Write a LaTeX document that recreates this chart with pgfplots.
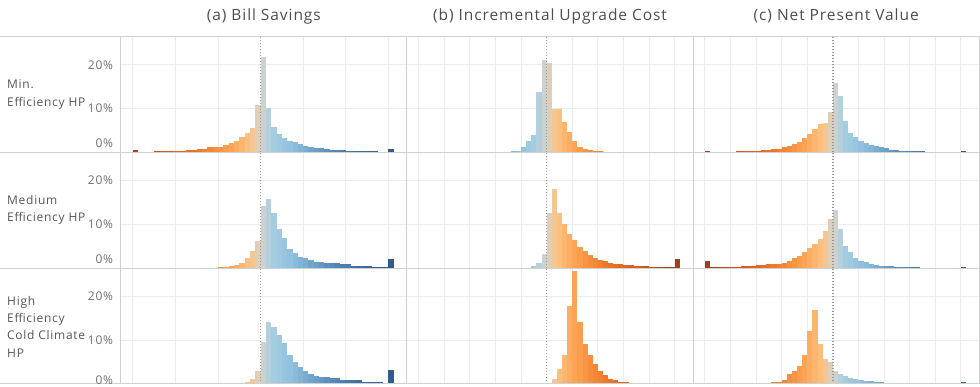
\documentclass[border=0pt]{standalone}
\usepackage{pgfplots}
\pgfplotsset{compat=1.18}
\usepackage{pgfplotstable}
\usepackage{fontspec}
\setmainfont{Open Sans}[LetterSpace=6]

\definecolor{gridc}{HTML}{ECECEC}
\definecolor{framec}{HTML}{D0D0D0}
\definecolor{titlec}{HTML}{4D4D4D}
\definecolor{labc}{HTML}{555555}
\definecolor{tickc}{HTML}{707070}
\definecolor{zeroc}{HTML}{999999}

\pgfplotstableread{
x h
-23.5 0.5
-19.5 0.25
-18.5 0.25
-17.5 0.25
-16.5 0.25
-15.5 0.25
-14.5 0.25
-13.5 0.55
-12.5 0.55
-11.5 0.75
-10.5 0.75
-9.5 1.1
-8.5 1.2
-7.5 1.2
-6.5 1.6
-5.5 2.1
-4.5 2.6
-3.5 3.4
-2.5 4.4
-1.5 5.5
-0.5 10.8
0.5 21.8
1.5 10.2
2.5 5.7
3.5 4.1
4.5 3.2
5.5 2.7
6.5 2.3
7.5 1.8
8.5 1.5
9.5 1.2
10.5 1.0
11.5 1.0
12.5 0.85
13.5 0.6
14.5 0.6
15.5 0.6
16.5 0.3
17.5 0.3
18.5 0.3
19.5 0.3
20.5 0.3
21.5 0.3
24.5 0.75
}\tAa
\pgfplotstableread{
x h
-7.5 0.15
-6.5 0.15
-5.5 0.4
-4.5 0.7
-3.5 1.2
-2.5 2.25
-1.5 3.9
-0.5 6.1
0.5 14.3
1.5 15.8
2.5 12.7
3.5 8.9
4.5 6.9
5.5 4.4
6.5 3.4
7.5 2.6
8.5 2.2
9.5 1.86
10.5 1.47
11.5 1.47
12.5 1.24
13.5 1.08
14.5 1.08
15.5 0.85
16.5 0.85
17.5 0.4
18.5 0.4
19.5 0.4
20.5 0.4
21.5 0.15
22.5 0.15
23.5 0.15
24.5 2.1
}\tAb
\pgfplotstableread{
x h
-3.5 0.15
-2.5 0.5
-1.5 1.1
-0.5 3.0
0.5 9.7
1.5 14.1
2.5 13.1
3.5 11.1
4.5 9.3
5.5 6.6
6.5 5.0
7.5 3.8
8.5 3.0
9.5 2.3
10.5 1.9
11.5 1.55
12.5 1.55
13.5 1.24
14.5 1.24
15.5 1.0
16.5 1.0
17.5 0.78
18.5 0.78
19.5 0.4
20.5 0.4
21.5 0.4
22.5 0.4
23.5 0.1
24.5 3.25
}\tAc
\pgfplotstableread{
x h
-6.5 0.3
-5.5 0.3
-4.5 1.2
-3.5 2.5
-2.5 3.9
-1.5 13.9
-0.5 21.2
0.5 20.4
1.5 10.0
2.5 9.8
3.5 7.0
4.5 4.7
5.5 2.5
6.5 1.2
7.5 0.85
8.5 0.6
9.5 0.3
10.5 0.3
}\tBa
\pgfplotstableread{
x h
-2.5 0.4
-1.5 1.25
-0.5 3.3
0.5 12.7
1.5 18.2
2.5 12.6
3.5 10.1
4.5 7.9
5.5 6.4
6.5 4.8
7.5 4.0
8.5 3.1
9.5 2.25
10.5 1.86
11.5 1.55
12.5 1.15
13.5 0.93
14.5 0.93
15.5 0.7
16.5 0.7
17.5 0.47
18.5 0.47
19.5 0.47
20.5 0.23
21.5 0.23
22.5 0.23
23.5 0.23
24.5 0.23
25.5 2.1
}\tBb
\pgfplotstableread{
x h
0.5 0.15
1.5 1.15
2.5 3.5
3.5 6.6
4.5 17.8
5.5 25.8
6.5 14.2
7.5 9.1
8.5 6.7
9.5 4.65
10.5 2.9
11.5 2.1
12.5 1.15
13.5 0.78
14.5 0.47
15.5 0.47
16.5 0.23
17.5 0.23
18.5 0.23
25.5 0.23
}\tBc
\pgfplotstableread{
x h
-24.5 0.3
-18.5 0.3
-17.5 0.3
-16.5 0.3
-15.5 0.3
-14.5 0.3
-13.5 0.6
-12.5 0.6
-11.5 0.85
-10.5 0.85
-9.5 1.1
-8.5 1.45
-7.5 1.85
-6.5 2.45
-5.5 3.2
-4.5 4.1
-3.5 5.3
-2.5 6.4
-1.5 6.6
-0.5 9.3
0.5 15.8
1.5 12.9
2.5 7.1
3.5 4.4
4.5 3.5
5.5 2.6
6.5 2.2
7.5 1.75
8.5 1.5
9.5 1.2
10.5 0.9
11.5 0.6
12.5 0.6
13.5 0.3
14.5 0.3
15.5 0.3
16.5 0.3
17.5 0.3
25.5 0.3
}\tCa
\pgfplotstableread{
x h
-24.5 1.7
-23.5 0.15
-22.5 0.15
-21.5 0.15
-20.5 0.15
-19.5 0.15
-18.5 0.15
-17.5 0.4
-16.5 0.4
-15.5 0.4
-14.5 0.6
-13.5 0.6
-12.5 0.9
-11.5 0.9
-10.5 0.9
-9.5 1.24
-8.5 1.7
-7.5 2.25
-6.5 2.7
-5.5 3.6
-4.5 4.6
-3.5 5.6
-2.5 6.7
-1.5 8.5
-0.5 11.2
0.5 13.2
1.5 9.0
2.5 5.0
3.5 3.6
4.5 2.3
5.5 1.7
6.5 1.3
7.5 0.93
8.5 0.7
9.5 0.55
10.5 0.4
11.5 0.4
12.5 0.23
13.5 0.23
14.5 0.23
15.5 0.23
16.5 0.23
25.5 0.25
}\tCb
\pgfplotstableread{
x h
-13.5 0.15
-12.5 0.15
-11.5 0.45
-10.5 0.45
-9.5 1.0
-8.5 2.2
-7.5 3.0
-6.5 4.0
-5.5 6.7
-4.5 12.0
-3.5 16.8
-2.5 9.1
-1.5 5.8
-0.5 5.0
0.5 2.9
1.5 2.3
2.5 1.8
3.5 1.4
4.5 1.1
5.5 0.85
6.5 0.62
7.5 0.62
8.5 0.4
9.5 0.4
10.5 0.15
11.5 0.15
12.5 0.15
13.5 0.15
14.5 0.15
15.5 0.15
16.5 0.15
17.5 0.15
18.5 0.15
25.5 0.4
}\tCc

\pgfplotsset{
  colormap={ob}{[1pt]
    rgb255(0pt)=(158,61,34)
    rgb255(6pt)=(205,86,32)
    rgb255(13pt)=(236,118,38)
    rgb255(19pt)=(252,160,78)
    rgb255(23pt)=(253,195,131)
    rgb255(25pt)=(214,211,202)
    rgb255(27pt)=(169,207,227)
    rgb255(31pt)=(141,191,221)
    rgb255(37pt)=(95,147,195)
    rgb255(44pt)=(61,108,156)
    rgb255(50pt)=(43,92,138)
  },
  panel/.style={
    scale only axis, width=286.2pt, height=115.8pt, anchor=south west,
    ymin=0, ymax=26.5, ytick={10,20},
    xmajorgrids, ymajorgrids,
    major grid style={gridc, line width=1pt},
    axis line style={draw=none}, major tick length=0pt,
    xticklabels={,,,,,,,,,,,,}, yticklabels={,,,},
    colormap name=ob, point meta min=-25, point meta max=25,
  },
  colA/.style={xmin=-26.3, xmax=27.5, xtick={-24,-16,-8,8,16,24}},
  colBC/.style={xmin=-27.3, xmax=28.6, xtick={-25,-20,-15,-10,-5,5,10,15,20,25}},
  ylab/.style={yticklabels={10\%,20\%}, yticklabel style={text=tickc, font=\fontsize{12}{14}\selectfont, anchor=east, inner sep=0pt, xshift=-7.5pt}},
  bars/.style={quiver={u=0, v=\thisrow{h}, colored=mapped color, every arrow/.append style={line width=#1, line cap=butt}}},
  zline/.style={zeroc, line width=1.5pt, dash pattern=on 1.3pt off 1.7pt},
}

\begin{document}
\begin{tikzpicture}
% ---- column (a)
\begin{axis}[panel, colA, ylab, at={(120.7pt,233.7pt)}]
  \addplot[bars=5.32pt, point meta=\thisrow{x}] table[x=x, y expr=0] {\tAa};
  \addplot[zline] coordinates {(0,0) (0,26.5)};
\end{axis}
\begin{axis}[panel, colA, ylab, at={(120.7pt,117.9pt)}]
  \addplot[bars=5.32pt, point meta=\thisrow{x}] table[x=x, y expr=0] {\tAb};
  \addplot[zline] coordinates {(0,0) (0,26.5)};
\end{axis}
\begin{axis}[panel, colA, ylab, at={(120.7pt,2.1pt)}]
  \addplot[bars=5.32pt, point meta=\thisrow{x}] table[x=x, y expr=0] {\tAc};
  \addplot[zline] coordinates {(0,0) (0,26.5)};
\end{axis}
% ---- column (b)
\begin{axis}[panel, colBC, at={(406.9pt,233.7pt)}]
  \addplot[bars=5.12pt, point meta=-\thisrow{x}] table[x=x, y expr=0] {\tBa};
  \addplot[zline] coordinates {(0,0) (0,26.5)};
\end{axis}
\begin{axis}[panel, colBC, at={(406.9pt,117.9pt)}]
  \addplot[bars=5.12pt, point meta=-\thisrow{x}] table[x=x, y expr=0] {\tBb};
  \addplot[zline] coordinates {(0,0) (0,26.5)};
\end{axis}
\begin{axis}[panel, colBC, at={(406.9pt,2.1pt)}]
  \addplot[bars=5.12pt, point meta=-\thisrow{x}] table[x=x, y expr=0] {\tBc};
  \addplot[zline] coordinates {(0,0) (0,26.5)};
\end{axis}
% ---- column (c)
\begin{axis}[panel, colBC, at={(693.1pt,233.7pt)}]
  \addplot[bars=5.12pt, point meta=\thisrow{x}] table[x=x, y expr=0] {\tCa};
  \addplot[zline] coordinates {(0,0) (0,26.5)};
\end{axis}
\begin{axis}[panel, colBC, at={(693.1pt,117.9pt)}]
  \addplot[bars=5.12pt, point meta=\thisrow{x}] table[x=x, y expr=0] {\tCb};
  \addplot[zline] coordinates {(0,0) (0,26.5)};
\end{axis}
\begin{axis}[panel, colBC, at={(693.1pt,2.1pt)}]
  \addplot[bars=5.12pt, point meta=\thisrow{x}] table[x=x, y expr=0] {\tCc};
  \addplot[zline] coordinates {(0,0) (0,26.5)};
\end{axis}

% ---- frame lines
\draw[framec, line width=1pt]
  (0pt,349.5pt) -- (979pt,349.5pt)
  (0pt,233.7pt) -- (979pt,233.7pt)
  (0pt,117.9pt) -- (979pt,117.9pt)
  (0pt,2.1pt) -- (979pt,2.1pt)
  (120.7pt,2.1pt) -- (120.7pt,349.5pt)
  (406.9pt,2.1pt) -- (406.9pt,349.5pt)
  (693.1pt,2.1pt) -- (693.1pt,349.5pt)
  (979pt,2.1pt) -- (979pt,349.5pt);

% ---- titles
\node[font=\fontsize{15.5}{18}\selectfont, text=titlec] at (263.8pt,370pt) {(a) Bill Savings};
\node[font=\fontsize{15.5}{18}\selectfont, text=titlec] at (550pt,370pt) {(b) Incremental Upgrade Cost};
\node[font=\fontsize{15.5}{18}\selectfont, text=titlec] at (836.2pt,370pt) {(c) Net Present Value};

% ---- row labels
\node[anchor=west, align=left, inner sep=0pt, font=\fontsize{12}{17.3}\selectfont, text=labc] at (7pt,291.6pt) {Min.\\Efficiency HP};
\node[anchor=west, align=left, inner sep=0pt, font=\fontsize{12}{17.3}\selectfont, text=labc] at (7pt,175.8pt) {Medium\\Efficiency HP};
\node[anchor=west, align=left, inner sep=0pt, font=\fontsize{12}{17.3}\selectfont, text=labc] at (7pt,59.5pt) {High\\Efficiency\\Cold Climate\\HP};

% ---- 0% labels
\node[anchor=east, inner sep=0pt, font=\fontsize{12}{14}\selectfont, text=tickc] at (113.2pt,242.3pt) {0\%};
\node[anchor=east, inner sep=0pt, font=\fontsize{12}{14}\selectfont, text=tickc] at (113.2pt,126.8pt) {0\%};
\node[anchor=east, inner sep=0pt, font=\fontsize{12}{14}\selectfont, text=tickc] at (113.2pt,6pt) {0\%};

\pgfresetboundingbox
\path[use as bounding box] (0pt,0pt) rectangle (980pt,386pt);
\end{tikzpicture}
\end{document}
